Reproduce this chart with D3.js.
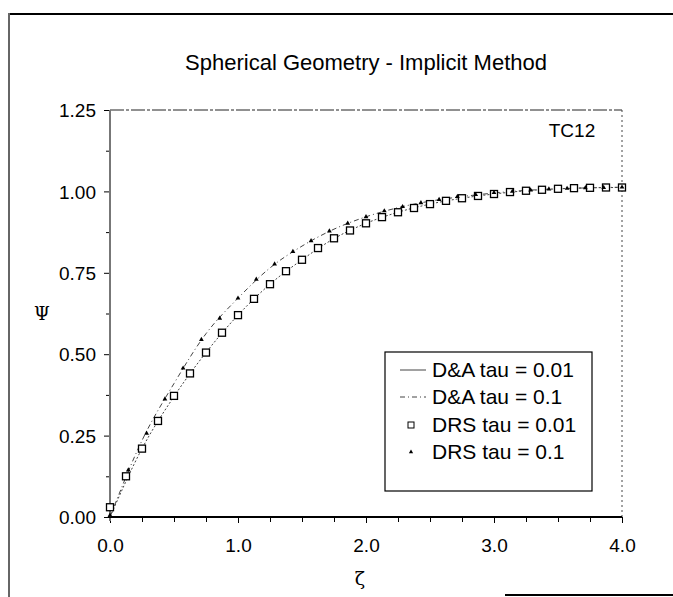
<!DOCTYPE html>
<html><head><meta charset="utf-8">
<script src="https://cdn.jsdelivr.net/npm/d3@7/dist/d3.min.js"></script>
<style>body{margin:0;background:#fff}svg{display:block}</style>
</head><body>
<script>
// ---- data ----
const titleText = "Spherical Geometry - Implicit Method";
const xTicks = [0, 1, 2, 3, 4];
const yTicks = [0, 0.25, 0.5, 0.75, 1.0, 1.25];
const seriesNames = ["D&A tau = 0.01", "D&A tau = 0.1", "DRS tau = 0.01", "DRS tau = 0.1"];

const daX = [0,0.25,0.5,0.75,1,1.25,1.5,1.75,2,2.25,2.5,2.75,3,3.25,3.5,3.75,4];
const daTau001 = [0,0.21,0.37,0.505,0.62,0.715,0.79,0.855,0.902,0.936,0.961,0.979,0.992,1.002,1.008,1.011,1.012];
const daTau01  = [0,0.235,0.41,0.563,0.672,0.765,0.832,0.884,0.922,0.95,0.97,0.984,0.995,1.003,1.008,1.011,1.013];

const drsX001 = [0,0.125,0.25,0.375,0.5,0.625,0.75,0.875,1,1.125,1.25,1.375,1.5,1.625,1.75,1.875,2,2.125,2.25,2.375,2.5,2.625,2.75,2.875,3,3.125,3.25,3.375,3.5,3.625,3.75,3.875,4];
const drsTau001 = [0.03,0.125,0.21,0.295,0.372,0.441,0.505,0.566,0.62,0.67,0.715,0.755,0.79,0.826,0.856,0.88,0.902,0.921,0.936,0.949,0.961,0.971,0.979,0.986,0.992,0.998,1.002,1.005,1.008,1.01,1.011,1.012,1.012];

const drsX01 = [0,0.143,0.286,0.429,0.571,0.714,0.857,1,1.143,1.286,1.429,1.571,1.714,1.857,2,2.143,2.286,2.429,2.571,2.714,2.857,3,3.143,3.286,3.429,3.571,3.714,3.857,4];
const drsTau01 = [0.005,0.144,0.257,0.362,0.457,0.545,0.61,0.672,0.73,0.777,0.815,0.848,0.878,0.902,0.922,0.94,0.953,0.965,0.975,0.984,0.99,0.996,1.0,1.004,1.007,1.009,1.011,1.012,1.013];

// ---- drawing ----
const W = 673, H = 597;
const svg = d3.select("body").append("svg").attr("width", W).attr("height", H)
  .style("font-family", "'Liberation Sans', Arial, sans-serif");

// outer frame fragments
svg.append("line").attr("x1",9).attr("y1",14).attr("x2",673).attr("y2",14).attr("stroke","#000").attr("stroke-width",2);
svg.append("line").attr("x1",9).attr("y1",13).attr("x2",9).attr("y2",597).attr("stroke","#666").attr("stroke-width",2);
svg.append("line").attr("x1",505).attr("y1",595).attr("x2",673).attr("y2",595).attr("stroke","#000").attr("stroke-width",2);

const x = d3.scaleLinear().domain([0, 4]).range([110, 622]);
const y = d3.scaleLinear().domain([0, 1.25]).range([517, 110]);

// title
svg.append("text").attr("x", 366).attr("y", 70).attr("text-anchor","middle")
  .attr("font-size", 22).text(titleText);

// plot frame: top dashed, right dotted
svg.append("line").attr("x1",x(0)).attr("x2",x(4)).attr("y1",y(1.25)).attr("y2",y(1.25))
  .attr("stroke","#222").attr("stroke-width",1).attr("stroke-dasharray","14,2,3,2");
svg.append("line").attr("x1",x(4)).attr("x2",x(4)).attr("y1",y(1.25)).attr("y2",y(0))
  .attr("stroke","#444").attr("stroke-width",1).attr("stroke-dasharray","2,3");

// axes
const yAxis = d3.axisLeft(y).tickValues(yTicks).tickFormat(d3.format(".2f")).tickSize(6).tickPadding(8);
const gy = svg.append("g").attr("transform", `translate(${x(0)},0)`).call(yAxis);
gy.select(".domain").remove();
gy.selectAll("text").attr("font-size", 19).attr("fill","#000").attr("dy","0.35em")
  .style("font-family","'Liberation Sans', Arial, sans-serif");
const yMinor = d3.axisLeft(y).tickValues(d3.range(0.125, 1.25, 0.25)).tickFormat("").tickSize(4);
const gym = svg.append("g").attr("transform", `translate(${x(0)},0)`).call(yMinor);
gym.select(".domain").remove();

const xAxis = d3.axisBottom(x).tickValues(xTicks).tickFormat(d3.format(".1f")).tickSize(6).tickPadding(16);
const gx = svg.append("g").attr("transform", `translate(0,${y(0)})`).call(xAxis);
gx.select(".domain").remove();
gx.selectAll("text").attr("font-size", 19).attr("fill","#000")
  .style("font-family","'Liberation Sans', Arial, sans-serif");
const xMinor = d3.axisBottom(x).tickValues(d3.range(0.25, 4, 0.25).filter(v => Math.abs(v - Math.round(v)) > 1e-6)).tickFormat("").tickSize(5);
const gxm = svg.append("g").attr("transform", `translate(0,${y(0)})`).call(xMinor);
gxm.select(".domain").remove();

// axis lines
svg.append("line").attr("x1",x(0)).attr("x2",x(0)).attr("y1",y(1.25)).attr("y2",y(0)+4)
  .attr("stroke","#777").attr("stroke-width",2);
svg.append("line").attr("x1",x(0)-2).attr("x2",x(4)).attr("y1",y(0)).attr("y2",y(0))
  .attr("stroke","#000").attr("stroke-width",2);

// axis titles
svg.append("text").attr("x", 42).attr("y", 320).attr("text-anchor","middle")
  .attr("font-size", 18).style("font-family","'DejaVu Serif', serif").text("Ψ");
svg.append("text").attr("x", 360).attr("y", 585).attr("text-anchor","middle")
  .attr("font-size", 19).style("font-family","'DejaVu Serif', serif").text("ζ");

// TC12
svg.append("text").attr("x", 572).attr("y", 137).attr("text-anchor","middle")
  .attr("font-size", 19).text("TC12");

// lines
const line = d3.line().x(d => x(d[0])).y(d => y(d[1])).curve(d3.curveMonotoneX);
svg.append("path").datum(daX.map((v,i)=>[v, daTau001[i]])).attr("d", line)
  .attr("fill","none").attr("stroke","#444").attr("stroke-width",1).attr("stroke-dasharray","2,2");
svg.append("path").datum(daX.map((v,i)=>[v, daTau01[i]])).attr("d", line)
  .attr("fill","none").attr("stroke","#444").attr("stroke-width",1).attr("stroke-dasharray","5,3,1,3");

// markers
svg.append("g").selectAll("rect").data(drsX001.map((v,i)=>[v, drsTau001[i]])).join("rect")
  .attr("x", d => x(d[0]) - 3.5).attr("y", d => y(d[1]) - 3.5).attr("width", 7).attr("height", 7)
  .attr("fill","#fff").attr("stroke","#000").attr("stroke-width",1.3);
svg.append("g").selectAll("path").data(drsX01.map((v,i)=>[v, drsTau01[i]])).join("path")
  .attr("d", d3.symbol(d3.symbolTriangle, 10)())
  .attr("transform", d => `translate(${x(d[0])},${y(d[1])})`)
  .attr("fill","#000");

// legend
const lg = svg.append("g");
lg.append("rect").attr("x", 385).attr("y", 352).attr("width", 207).attr("height", 139)
  .attr("fill","#fff").attr("stroke","#000").attr("stroke-width",1.2);
const rowY = [370, 397, 425, 452];
seriesNames.forEach((name, i) => {
  lg.append("text").attr("x", 432).attr("y", rowY[i]).attr("dy","0.35em")
    .attr("font-size", 21).text(name);
});
lg.append("line").attr("x1",400).attr("x2",426).attr("y1",rowY[0]).attr("y2",rowY[0])
  .attr("stroke","#444").attr("stroke-width",1);
lg.append("line").attr("x1",400).attr("x2",426).attr("y1",rowY[1]).attr("y2",rowY[1])
  .attr("stroke","#444").attr("stroke-width",1).attr("stroke-dasharray","5,3,1,3");
lg.append("rect").attr("x",408).attr("y",rowY[2]-3).attr("width",6).attr("height",6)
  .attr("fill","#fff").attr("stroke","#000").attr("stroke-width",1);
lg.append("path").attr("d", d3.symbol(d3.symbolTriangle, 8)())
  .attr("transform", `translate(411,${rowY[3]})`).attr("fill","#000");
</script>
</body></html>
